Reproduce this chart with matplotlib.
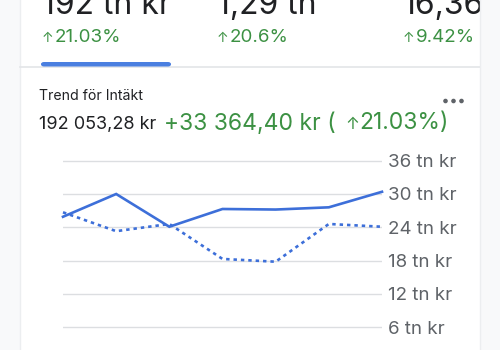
import matplotlib
matplotlib.use("Agg")
from matplotlib import pyplot as plt
from matplotlib.patches import Rectangle, Circle, FancyBboxPatch

plt.rcParams['font.family'] = ['Inter', 'DejaVu Sans']

# data (tn kr)
x_idx = [0, 1, 2, 3, 4, 5, 6]
current = [25.9, 30.0, 24.1, 27.3, 27.2, 27.6, 30.4]
previous = [26.7, 23.3, 24.6, 18.3, 17.8, 24.6, 24.1]
y_ticks = [6, 12, 18, 24, 30, 36]
y_labels = ['6 tn kr', '12 tn kr', '18 tn kr', '24 tn kr', '30 tn kr', '36 tn kr']

top_values = ['192 tn kr', '1,29 tn', '16,36']
top_changes = ['21.03%', '20.6%', '9.42%']
top_x = [42, 217, 403]

BLUE = '#3d6fd9'
GREEN = '#3c9143'
DARK = '#202124'
GREY = '#5f6368'

W, H = 500, 350
Figure = plt.figure(figsize=(5, 3.5), dpi=100)
Figure.patch.set_facecolor('#f8f9fa')

def fx(px):
    return px / W

def fy(py):
    return 1 - py / H

# card
Figure.add_artist(Rectangle((fx(20), 0), fx(460), 1, transform=Figure.transFigure,
                            facecolor='white', edgecolor='none', zorder=0))
Figure.add_artist(plt.Line2D([fx(20), fx(20)], [0, 1], transform=Figure.transFigure,
                             color='#eceef0', lw=1, zorder=1))
Figure.add_artist(plt.Line2D([fx(480), fx(480)], [0, 1], transform=Figure.transFigure,
                             color='#eceef0', lw=1, zorder=11))
# divider + tab indicator
Figure.add_artist(plt.Line2D([fx(20), fx(480)], [fy(66.5), fy(66.5)], transform=Figure.transFigure,
                             color='#e3e5e8', lw=1.2, zorder=1))
Figure.add_artist(FancyBboxPatch((fx(41), fy(66.5)), fx(130), 4.5 / H,
                                 boxstyle='round,pad=0,rounding_size=0.006',
                                 transform=Figure.transFigure, facecolor='#4a7fe0',
                                 edgecolor='none', zorder=2))

# top tiles
for x, v, c in zip(top_x, top_values, top_changes):
    Figure.text(fx(x), fy(14), v, fontsize=23, color=DARK, va='baseline', ha='left', zorder=3)
    Figure.text(fx(x), fy(41.5), '\u2191', fontsize=10, color=GREEN, va='baseline', ha='left', zorder=3)
    Figure.text(fx(x + 13), fy(42.5), c, fontsize=13.5, color=GREEN, va='baseline', ha='left', zorder=3)

# cover right strip (clips "16,36")
Figure.add_artist(Rectangle((fx(480), 0), fx(20), 1, transform=Figure.transFigure,
                            facecolor='#f8f9fa', edgecolor='none', zorder=10))

# header
Figure.text(fx(39), fy(100), 'Trend f\u00f6r Int\u00e4kt', fontsize=10.2, color=DARK, va='baseline')
Figure.text(fx(39), fy(128.5), '192 053,28 kr', fontsize=13, color=DARK, va='baseline')
Figure.text(fx(164), fy(129.5), '+33 364,40 kr (', fontsize=16.5, color=GREEN, va='baseline')
Figure.text(fx(345), fy(128.5), '\u2191', fontsize=12, color=GREEN, va='baseline')
Figure.text(fx(359), fy(129.5), '21.03%)', fontsize=16.5, color=GREEN, va='baseline')
for cx in [445.5, 453.5, 461.5]:
    Figure.add_artist(Circle((cx / 100, (H - 101) / 100), 0.023, transform=Figure.dpi_scale_trans,
                             facecolor=GREY, edgecolor='none', zorder=3))

# chart
top_px, bot_px = 150, 340
per_unit = 5.55
y_top = 36 + (160.7 - top_px) / per_unit
y_bot = 36 - (bot_px - 160.7) / per_unit
Graph = Figure.add_axes([fx(63), fy(bot_px), fx(382 - 63), (bot_px - top_px) / H])
Graph.set_facecolor('none')
for s in Graph.spines.values():
    s.set_visible(False)

Graph.plot(x_idx, current, '-', color=BLUE, linewidth=1.9, solid_joinstyle='miter', clip_on=False, zorder=3)
Graph.plot(x_idx, previous, color=BLUE, linewidth=1.9, linestyle=(0, (1.3, 1.5)),
           dash_capstyle='butt', clip_on=False, zorder=3)

Graph.set_xlim(0, 6)
Graph.set_ylim(y_bot, y_top)
Graph.set_xticks([])
Graph.yaxis.tick_right()
Graph.set_yticks(y_ticks)
Graph.set_yticklabels(y_labels, fontsize=13.5, color=GREY)
Graph.tick_params(axis='y', length=0, pad=4.5)
Graph.set_axisbelow(True)
Graph.yaxis.grid(color='#dcdee1', linestyle='solid', linewidth=1)

Figure.savefig('out.png', dpi=100)
